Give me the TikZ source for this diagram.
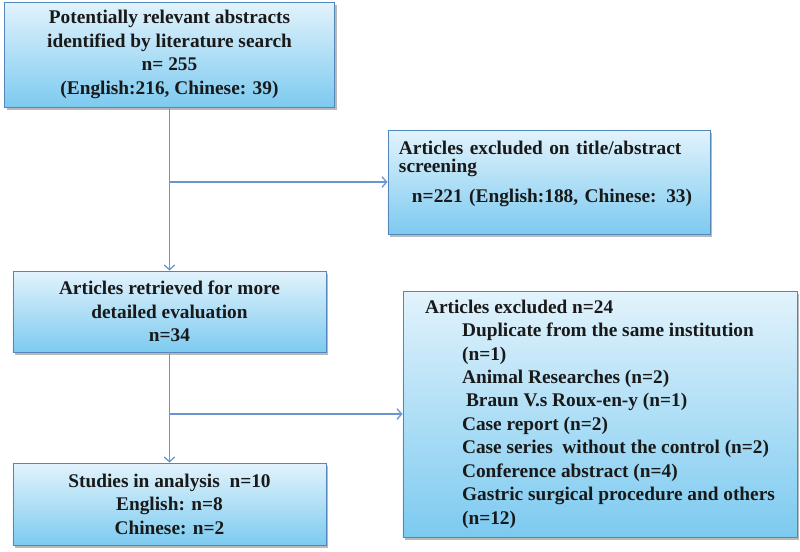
\documentclass[tikz,border=0pt]{standalone}
\usepackage{fontspec}
\setmainfont{Liberation Serif}
\usetikzlibrary{arrows.meta,shadows}
\definecolor{boxtop}{RGB}{226,243,252}
\definecolor{boxbottom}{RGB}{125,202,240}
\definecolor{boxline}{RGB}{84,135,185}
\definecolor{flowblue}{RGB}{105,150,210}

\begin{document}
\begin{tikzpicture}[x=0.03cm,y=-0.03cm,
    box/.style={draw=boxline,line width=0.8pt,top color=boxtop,bottom color=boxbottom,
      drop shadow={shadow xshift=2pt,shadow yshift=-2.5pt,fill=black!55,opacity=.5},
      font=\fontsize{16.5}{20}\selectfont\bfseries,text=black!90,inner sep=0pt},
    flow/.style={draw=flowblue,line width=1.1pt,-{Straight Barb[length=4pt,width=9pt]}}]
  \useasboundingbox (0,0) rectangle (800,551);
  % left column
  \node[box,align=center,minimum width=9.9cm,minimum height=3.15cm] (abs) at (169.5,54.5)
    {Potentially relevant abstracts\\identified by literature search\\n= 255\\(English:216, Chinese: 39)};
  \node[box,align=center,minimum width=9.39cm,minimum height=2.43cm] (ret) at (169.5,311.5)
    {Articles retrieved for more\\detailed evaluation\\n=34};
  \node[box,align=center,minimum width=9.39cm,minimum height=2.46cm] (inc) at (169.5,504)
    {Studies in analysis\ \ n=10\\English: n=8\\Chinese: n=2};
  % right column
  \node[box,align=left,inner xsep=0.33cm,text width=9.0cm,minimum height=3.12cm,text depth=58pt] (excl) at (549,182)
    {Articles excluded on title/abstract\\[-4.6pt]screening\\[5.6pt]\hspace*{0.39cm}n=221 (English:188, Chinese: 33)};
  \node[box,align=left,minimum width=11.82cm,minimum height=7.38cm] (rsn) at (600,414)
    {Articles excluded n=24\\
     \hspace*{1.11cm}Duplicate from the same institution\\
     \hspace*{1.11cm}(n=1)\\
     \hspace*{1.11cm}Animal Researches (n=2)\\
     \hspace*{1.23cm}Braun V.s Roux-en-y (n=1)\\
     \hspace*{1.11cm}Case report (n=2)\\
     \hspace*{1.11cm}Case series\ \ without the control (n=2)\\
     \hspace*{1.11cm}Conference abstract (n=4)\\
     \hspace*{1.11cm}Gastric surgical procedure and others\\
     \hspace*{1.11cm}(n=12)};
  % connectors
  \coordinate (split1) at (abs.south |- excl.west);
  \coordinate (split2) at (ret.south |- rsn.west);
  \draw[flow] (abs) -- (ret);
  \draw[flow] (split1) -- (excl.west);
  \draw[flow] (ret) -- (inc);
  \draw[flow] (split2) -- (rsn.west);
\end{tikzpicture}
\end{document}
